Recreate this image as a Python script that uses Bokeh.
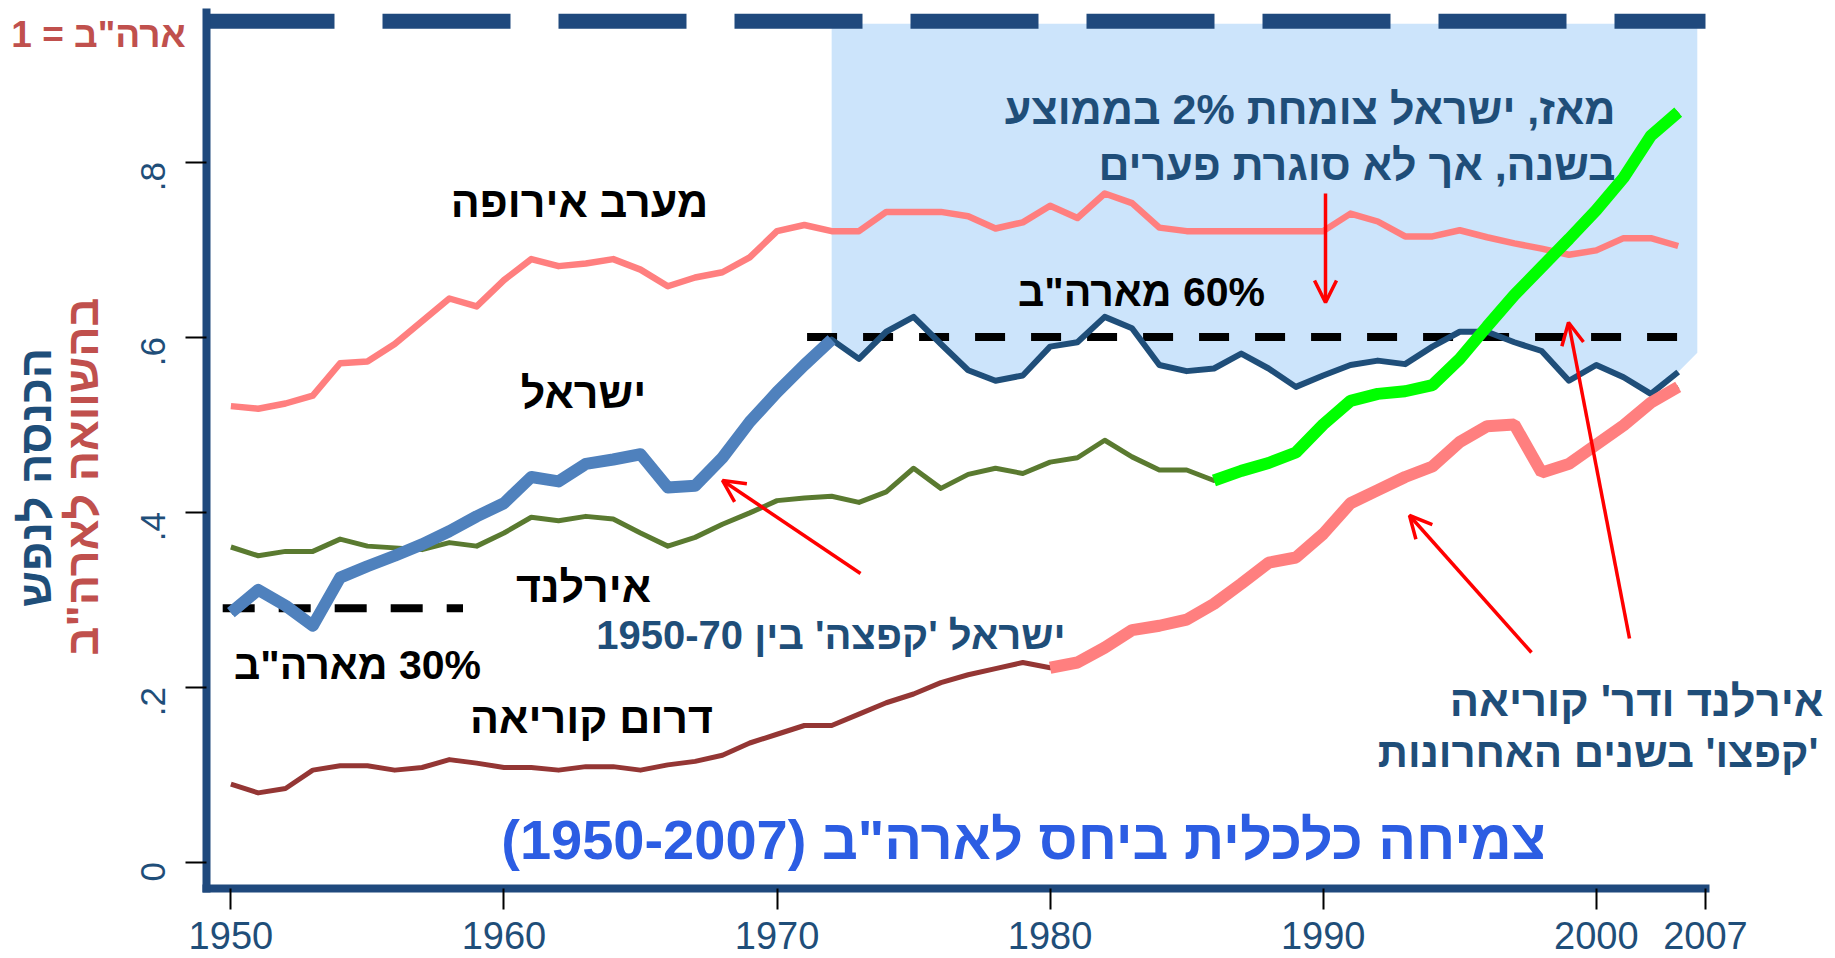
import math
from bokeh.plotting import figure
from bokeh.models import Label, Arrow, OpenHead, FixedTicker, Range1d
from bokeh.embed import file_html
from bokeh.resources import INLINE

# ---------------- data ----------------
years = list(range(1950, 2004))

western_europe = [
    0.521, 0.518, 0.524, 0.533, 0.570, 0.572, 0.592, 0.618, 0.644, 0.635,
    0.665, 0.689, 0.681, 0.684, 0.689, 0.677, 0.658, 0.668, 0.674, 0.691,
    0.721, 0.728, 0.721, 0.721, 0.743, 0.743, 0.743, 0.738, 0.724, 0.731,
    0.750, 0.736, 0.764, 0.753, 0.725, 0.721, 0.721, 0.721, 0.721, 0.721,
    0.721, 0.741, 0.732, 0.715, 0.715, 0.722, 0.714, 0.707, 0.701, 0.694,
    0.699, 0.713, 0.713, 0.704]

israel = [
    0.285, 0.311, 0.293, 0.270, 0.325, 0.338, 0.350, 0.363, 0.378, 0.395,
    0.410, 0.440, 0.435, 0.455, 0.460, 0.466, 0.428, 0.430, 0.462, 0.503,
    0.537, 0.568, 0.597, 0.575, 0.606, 0.623, 0.592, 0.562, 0.550, 0.556,
    0.589, 0.594, 0.623, 0.610, 0.568, 0.561, 0.564, 0.581, 0.564, 0.543,
    0.556, 0.568, 0.573, 0.569, 0.589, 0.606, 0.606, 0.594, 0.584, 0.550,
    0.568, 0.554, 0.535, 0.560]

ireland = [
    0.360, 0.350, 0.355, 0.355, 0.369, 0.361, 0.359, 0.357, 0.365, 0.361,
    0.376, 0.394, 0.390, 0.395, 0.392, 0.376, 0.361, 0.371, 0.386, 0.399,
    0.413, 0.416, 0.418, 0.411, 0.423, 0.450, 0.427, 0.443, 0.450, 0.444,
    0.457, 0.462, 0.482, 0.463, 0.448, 0.448, 0.436, 0.447, 0.456, 0.468,
    0.500, 0.527, 0.535, 0.538, 0.545, 0.575, 0.612, 0.648, 0.680, 0.712,
    0.745, 0.782, 0.830, 0.857]

south_korea = [
    0.089, 0.079, 0.084, 0.105, 0.110, 0.110, 0.105, 0.108, 0.117, 0.113,
    0.108, 0.108, 0.105, 0.109, 0.109, 0.105, 0.111, 0.115, 0.122, 0.136,
    0.146, 0.156, 0.156, 0.169, 0.182, 0.192, 0.205, 0.214, 0.221, 0.228,
    0.222, 0.228, 0.245, 0.265, 0.270, 0.277, 0.295, 0.318, 0.342, 0.348,
    0.375, 0.410, 0.425, 0.440, 0.452, 0.480, 0.498, 0.500, 0.445, 0.455,
    0.477, 0.499, 0.525, 0.543]

usa_level = 0.961          # the "USA = 1" reference line as drawn
level_30 = 0.29
level_60 = 0.60

israel_jump_years = (1950, 1972)
israel_gap_years = (1972, 2003)
ireland_jump_years = (1986, 2003)
korea_jump_years = (1980, 2003)

x_ticks = [1950, 1960, 1970, 1980, 1990, 2000, 2004]
x_tick_labels = ["1950", "1960", "1970", "1980", "1990", "2000", "2007"]
y_ticks = [0, 0.2, 0.4, 0.6, 0.8]
y_tick_labels = ["0", ".2", ".4", ".6", ".8"]

# ---------------- style ----------------
NAVY = "#1F497D"
NAVY_T = "#1F4E79"
RED_T = "#C0504D"
PINK = "#FF7F7F"
LIGHT_BLUE = "#4F81BD"
OLIVE = "#5A7A30"
GREEN = "#00FF00"
KOREA = "#943634"
SHADE = "#CCE4FB"
TITLE = "#2C5DE3"
FONT = "Liberation Sans"
RLM = "\u200f"

W, H = 1835, 958
# axis box in page pixels
PL, PR, PT, PB = 206, 1705, 12, 888
AX0, AX1 = 1949.107, 2004.0           # x-axis extent (years)
PX_PER_YEAR = (PR - PL) / (AX1 - AX0)
PX_PER_UNIT = 875.0
AY1 = (861.5 - PT) / PX_PER_UNIT      # y-axis top value
AY0 = (861.5 - PB) / PX_PER_UNIT      # y-axis bottom value

XL = AX0 - PL / PX_PER_YEAR
XR = AX1 + (W - PR) / PX_PER_YEAR
YT = AY1 + PT / PX_PER_UNIT
YB = AY0 - (H - PB) / PX_PER_UNIT


def dx(px):
    return XL + px / PX_PER_YEAR


def dy(py):
    return YT - py / PX_PER_UNIT


p = figure(width=W, height=H, x_range=Range1d(XL, XR), y_range=Range1d(YB, YT),
           min_border=0, min_border_left=0, min_border_right=0,
           min_border_top=0, min_border_bottom=0,
           output_backend="svg", toolbar_location=None)
p.outline_line_color = None
p.xgrid.visible = False
p.ygrid.visible = False
p.background_fill_color = "white"
p.border_fill_color = "white"

for ax in (p.xaxis, p.yaxis):
    ax.axis_line_color = NAVY
    ax.axis_line_width = 8
    ax.axis_line_cap = "square"
    ax.major_tick_line_color = "black"
    ax.major_tick_line_width = 2
    ax.major_tick_out = 21
    ax.major_tick_in = 0
    ax.minor_tick_line_color = None
    ax.major_label_text_font = FONT
    ax.major_label_text_color = NAVY_T

p.xaxis.fixed_location = AY0
p.xaxis.bounds = (AX0, AX1)
p.xaxis.ticker = FixedTicker(ticks=x_ticks)
p.xaxis.major_label_overrides = dict(zip(x_ticks, x_tick_labels))
p.xaxis.major_label_text_font_size = "38px"
p.xaxis.major_label_standoff = 12

p.yaxis.fixed_location = AX0
p.yaxis.bounds = (AY0, AY1)
p.yaxis.ticker = FixedTicker(ticks=y_ticks)
p.yaxis.major_label_overrides = dict(zip(y_ticks, y_tick_labels))
p.yaxis.major_label_text_font_size = "35px"
p.yaxis.major_label_orientation = math.pi / 2
p.yaxis.major_label_standoff = 33

# ---------------- shaded gap region ----------------
i0 = years.index(israel_gap_years[0])
i1 = years.index(israel_gap_years[1])
gx = years[i0:i1 + 1] + [years[i1] + 0.7]
gy = israel[i0:i1 + 1] + [israel[i1] + 0.022]
p.varea(x=gx, y1=gy, y2=[usa_level - 0.003] * len(gx), fill_color=SHADE)

# ---------------- reference dashed lines ----------------
p.line([AX0, AX1], [usa_level, usa_level], line_color=NAVY, line_width=15,
       line_dash="128 48")
p.line([1949.7, 1958.5], [level_30, level_30], line_color="black", line_width=8,
       line_dash="32 24")
p.line([1971.1, 2003.2], [level_60, level_60], line_color="black", line_width=8,
       line_dash="30 26")

# ---------------- base lines ----------------
p.line(years, western_europe, line_color=PINK, line_width=6.5, line_join="round")
p.line(years, ireland, line_color=OLIVE, line_width=5, line_join="round")
p.line(years, israel, line_color=NAVY_T, line_width=6, line_join="round")
p.line(years, south_korea, line_color=KOREA, line_width=5, line_join="round")


def seg(series, span):
    a = years.index(span[0])
    b = years.index(span[1])
    return years[a:b + 1], series[a:b + 1]


def lab(px, py, text, size, color="black", align="center", angle=0.0):
    p.add_layout(Label(x=dx(px), y=dy(py), text=text, text_align=align,
                       text_baseline="middle", text_font=FONT,
                       text_font_style="bold", text_font_size=f"{size}px",
                       text_color=color, angle=angle))


# text partly hidden by the Korea overlay: drawn before the overlays
lab(1065, 634, "ישראל 'קפצה' בין 1950-70", 40, NAVY_T, align="right")

xs, ys = seg(israel, israel_jump_years)
p.line(xs, ys, line_color=LIGHT_BLUE, line_width=12, line_join="round")
xs, ys = seg(ireland, ireland_jump_years)
p.line(xs, ys, line_color=GREEN, line_width=12)
xs, ys = seg(south_korea, korea_jump_years)
p.line(xs, ys, line_color=PINK, line_width=12)

# ---------------- arrows ----------------
arrows = [((860, 573), (722, 480)),
          ((1325, 193), (1325, 302)),
          ((1531, 652), (1409, 515)),
          ((1629, 638), (1568, 322))]
for (tx, ty), (hx, hy) in arrows:
    p.add_layout(Arrow(end=OpenHead(size=22, line_color="red", line_width=3.5),
                       x_start=dx(tx), y_start=dy(ty), x_end=dx(hx), y_end=dy(hy),
                       line_color="red", line_width=3.5))

# ---------------- texts ----------------
lab(98, 34, 'ארה"ב = 1', 37, RED_T)
lab(35, 477, "הכנסה לנפש", 45, NAVY_T, angle=math.pi / 2)
lab(82, 476, 'בהשוואה לארה"ב', 45, RED_T, angle=math.pi / 2)

lab(579, 201, "מערב אירופה", 43)
lab(583, 392, "ישראל", 43)
lab(583, 586, "אירלנד", 43)
lab(357, 664, RLM + '30% מארה"ב', 41)
lab(591, 717, "דרום קוריאה", 43)
lab(1141, 291, RLM + '60% מארה"ב', 41)

lab(1615, 108, "מאז, ישראל צומחת 2% בממוצע", 43, NAVY_T, align="right")
lab(1615, 164, "בשנה, אך לא סוגרת פערים", 43, NAVY_T, align="right")
lab(1823, 700, "אירלנד ודר' קוריאה", 43.5, NAVY_T, align="right")
lab(1818, 752, RLM + "'קפצו' בשנים האחרונות" + RLM, 42, NAVY_T, align="right")

lab(1023, 839, RLM + 'צמיחה כלכלית ביחס לארה"ב (1950-2007)' + RLM, 56, TITLE)

open("out.html", "w").write(file_html(p, INLINE))
